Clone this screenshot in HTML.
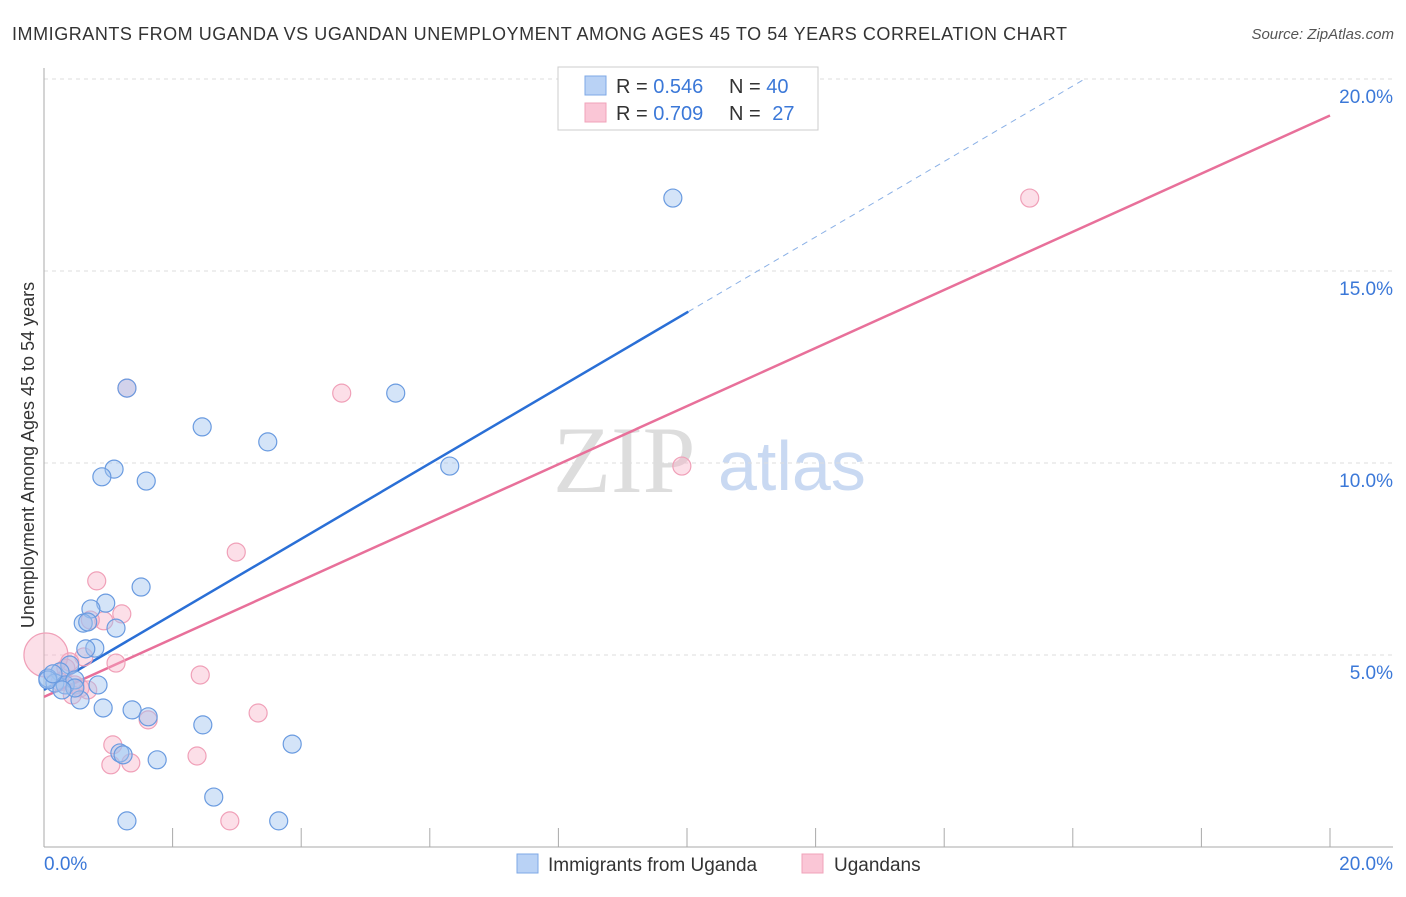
<!DOCTYPE html>
<html><head><meta charset="utf-8"><style>
body{margin:0;background:#fff;font-family:"Liberation Sans",sans-serif;}
svg text{font-family:"Liberation Sans",sans-serif;}
</style></head><body>
<svg id="chart" width="1406" height="892">
<text x="12" y="40" font-size="18" fill="#333" textLength="1055">IMMIGRANTS FROM UGANDA VS UGANDAN UNEMPLOYMENT AMONG AGES 45 TO 54 YEARS CORRELATION CHART</text>
<text x="1394" y="39" font-size="15" fill="#555" font-style="italic" text-anchor="end">Source: ZipAtlas.com</text>
<text transform="translate(34,455) rotate(-90)" font-size="18" fill="#333" text-anchor="middle">Unemployment Among Ages 45 to 54 years</text>
<g>
<text x="553" y="492" font-size="95" fill="#ddd" style="font-family:'Liberation Serif',serif">ZIP</text>
<text x="718" y="490" font-size="70" fill="#c9d9f2">atlas</text>
</g>
<g id="grid"></g><g id="axes"></g><g id="lines"></g><g id="pts"></g>
<g>
<rect x="558" y="67" width="260" height="63" fill="#fff" stroke="#ccc"/>
<rect x="585" y="76" width="21" height="19" fill="#b9d2f5" stroke="#7ea8e6"/>
<rect x="585" y="103" width="21" height="19" fill="#fac6d6" stroke="#f0a3ba"/>
<text x="616" y="93" font-size="20" fill="#333">R = <tspan fill="#3b78d8">0.546</tspan></text>
<text x="729" y="93" font-size="20" fill="#333">N = <tspan fill="#3b78d8">40</tspan></text>
<text x="616" y="120" font-size="20" fill="#333">R = <tspan fill="#3b78d8">0.709</tspan></text>
<text x="729" y="120" font-size="20" fill="#333">N = <tspan fill="#3b78d8" dx="6">27</tspan></text>
</g>
<g>
<rect x="517" y="854" width="21" height="19" fill="#b9d2f5" stroke="#7ea8e6"/>
<text x="548" y="871" font-size="19" fill="#333">Immigrants from Uganda</text>
<rect x="802" y="854" width="21" height="19" fill="#fac6d6" stroke="#f0a3ba"/>
<text x="834" y="871" font-size="19" fill="#333">Ugandans</text>
</g>
</svg>
<script>
const blueX=[9.78,5.47,1.29,2.46,3.48,6.31,1.09,0.90,1.59,1.51,0.96,0.73,0.61,0.68,1.12,0.79,0.65,0.40,0.25,0.06,0.17,0.33,0.48,0.84,0.56,0.92,1.37,1.62,2.47,1.18,1.23,1.76,3.86,2.64,1.29,3.65,0.06,0.48,0.14,0.28];
const blueY=[16.9,11.82,11.95,10.94,10.55,9.92,9.84,9.64,9.53,6.77,6.35,6.20,5.83,5.86,5.70,5.18,5.16,4.74,4.56,4.40,4.27,4.22,4.35,4.22,3.83,3.62,3.57,3.39,3.18,2.45,2.40,2.27,2.68,1.30,0.68,0.68,4.35,4.14,4.51,4.09];
const pinkX=[15.33,4.63,1.29,9.92,2.99,0.82,1.21,0.93,0.72,1.12,0.62,0.40,2.43,0.03,0.34,0.56,0.68,0.44,0.48,3.33,1.62,1.07,1.04,1.35,2.38,2.89,0.25];
const pinkY=[16.9,11.82,11.95,9.92,7.68,6.93,6.07,5.89,5.91,4.79,4.95,4.82,4.48,5.0,4.66,4.14,4.09,3.96,4.22,3.49,3.31,2.66,2.14,2.19,2.37,0.68,4.30];
const blueTrend=[4.09,0.983];
const pinkTrend=[3.91,0.757];
const yTicks=[5,10,15,20];
const xTickVals=[0,2,4,6,8,10,12,14,16,18,20];
const NS="http://www.w3.org/2000/svg";
const sx=v=>44+v*64.3, sy=v=>847-v*38.4;
function mk(tag,attrs,parent){const e=document.createElementNS(NS,tag);for(const k in attrs)e.setAttribute(k,attrs[k]);document.getElementById(parent).appendChild(e);return e;}
yTicks.forEach(t=>{
  const l=mk('line',{x1:44,x2:1393,y1:sy(t),y2:sy(t),stroke:'#ddd','stroke-dasharray':'4,4'},'grid');
  
  
  const tx=mk('text',{x:1393,y:sy(t)+24,'font-size':19,fill:'#3b78d8','text-anchor':'end'},'axes');
  tx.textContent=t.toFixed(1)+'%';
  
  
});
let a=mk('line',{x1:44,x2:44,y1:68,y2:847,stroke:'#aaa'},'axes');


a=mk('line',{x1:44,x2:1393,y1:847,y2:847,stroke:'#aaa'},'axes');


xTickVals.forEach(t=>{
  const l=mk('line',{x1:sx(t),x2:sx(t),y1:828,y2:847,stroke:'#aaa'},'axes');
  
  
});
[[0,'0.0%',44,'start'],[20,'20.0%',1393,'end']].forEach(d=>{
  const tx=mk('text',{x:d[2],y:870,'font-size':19,fill:'#3b78d8','text-anchor':d[3]},'axes');
  tx.textContent=d[1];
  
  
});
let tl=mk('line',{x1:sx(0),y1:sy(blueTrend[0]),x2:sx(10.02),y2:sy(blueTrend[0]+blueTrend[1]*10.02),stroke:'#2a6fd6','stroke-width':2.5},'lines');


const xe=(20-blueTrend[0])/blueTrend[1];
tl=mk('line',{x1:sx(10.02),y1:sy(blueTrend[0]+blueTrend[1]*10.02),x2:sx(xe),y2:sy(20),stroke:'#8ab0e6','stroke-width':1,'stroke-dasharray':'6,5'},'lines');


tl=mk('line',{x1:sx(0),y1:sy(pinkTrend[0]),x2:sx(20),y2:sy(pinkTrend[0]+pinkTrend[1]*20),stroke:'#e8709a','stroke-width':2.5},'lines');


pinkX.forEach((x,i)=>{
  const c=mk('circle',{cx:sx(x),cy:sy(pinkY[i]),r:i===13?22:9,fill:'rgba(248,175,198,0.4)',stroke:'#f0a0b8','stroke-width':1.2},'pts');
  
  
});
blueX.forEach((x,i)=>{
  const c=mk('circle',{cx:sx(x),cy:sy(blueY[i]),r:9,fill:'rgba(160,196,240,0.45)',stroke:'#6a9be0','stroke-width':1.2},'pts');
  
  
});
</script>
</body></html>
